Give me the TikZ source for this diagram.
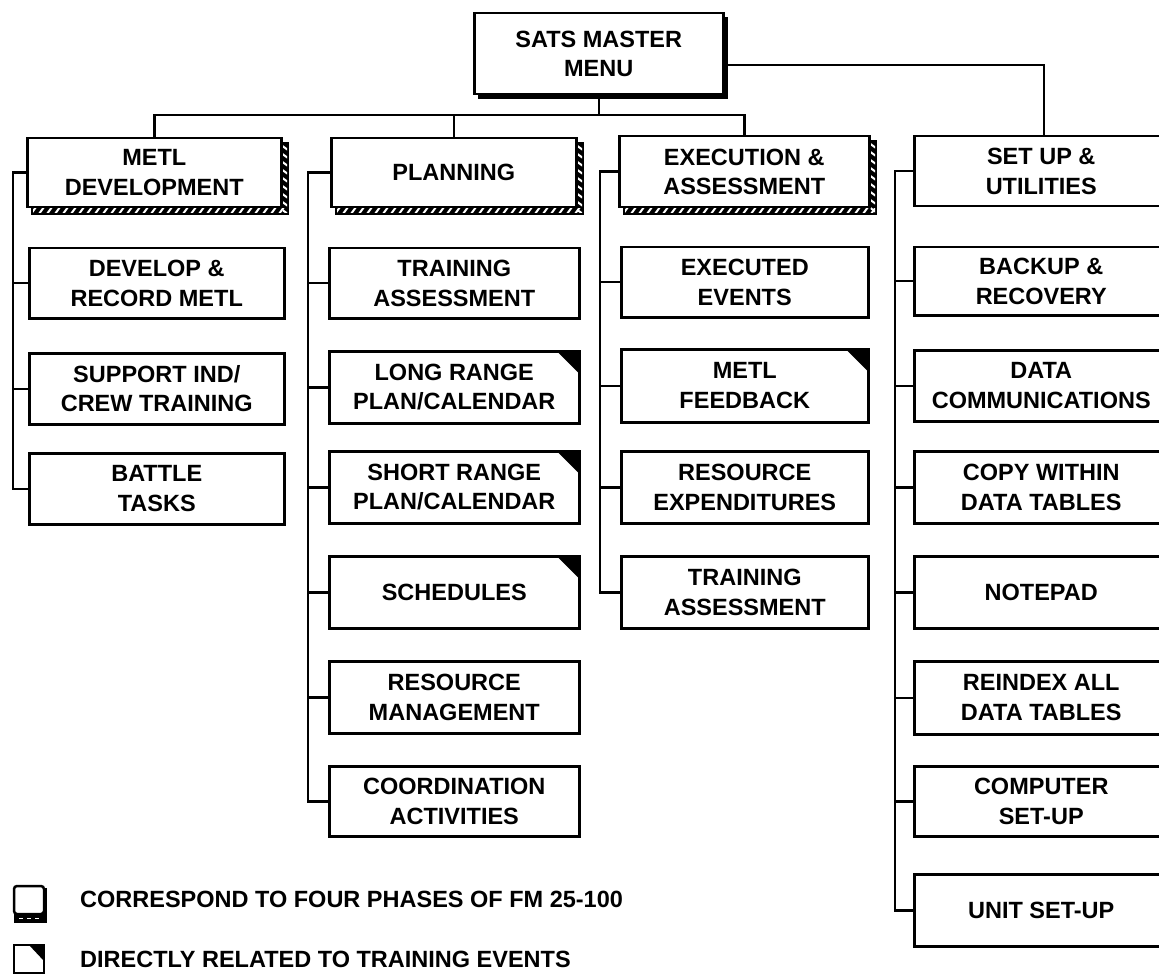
\documentclass[tikz,border=0pt]{standalone}
\usepackage{fontspec}
\setmainfont{Liberation Sans}
\newcommand\boxfont{\fontsize{23.5}{29.5}\selectfont\bfseries}
\newcommand\legfont{\fontsize{23.5}{28}\selectfont\bfseries}
\tikzset{
  box/.style={draw, line width=2.5pt, fill=white, anchor=north west, inner sep=0pt,
    align=center, font=\boxfont, minimum width=#1},
  box/.default=255pt,
  conn/.style={line width=2.5pt, line cap=rect},
}
% hatched shadow: x0 y0 x1 y1 of the box
\newcommand\hatchshadow[4]{%
  \fill[black] (#1+5,#4) rectangle (#3+9,#4+9);
  \fill[black] (#3,#2+5) rectangle (#3+9,#4+9);
  \begin{scope}
    \clip (#1+7,#4+2.5) rectangle (#3+7,#4+7);
    \foreach \t in {0,8,...,300} \draw[white, line width=2pt] (#1+5+\t,#4+8) -- ++(5,-7);
  \end{scope}
  \begin{scope}
    \clip (#3+2.5,#2+8) rectangle (#3+7,#4+7);
    \foreach \t in {0,8,...,90} \draw[white, line width=2pt] (#3+1,#2+8+\t) -- ++(7,5);
  \end{scope}
}
\newcommand\tri[1]{\fill (#1.north east) -- ++(-25,0) -- ++(25,25) -- cycle;}
\begin{document}
\begin{tikzpicture}[x=1pt, y=-1pt]
\useasboundingbox (0,0) rectangle (1159,976);
\clip (0,0) rectangle (1159,976);
\fill[white] (0,0) rectangle (1159,976);

% master
\fill (478,17) rectangle (728,99);
\node[box=249pt, minimum height=81pt] (m) at (473,12) {SATS MASTER\\MENU};

% headers
\hatchshadow{26}{137}{280}{206}
\node[box=254pt, minimum height=69pt] (h1) at (26,137) {METL\\DEVELOPMENT};
\hatchshadow{330}{137}{575}{206}
\node[box=245pt, minimum height=69pt] (h2) at (330,137) {PLANNING};
\hatchshadow{618}{135}{868}{206}
\node[box=250pt, minimum height=71pt] (h3) at (618,135) {EXECUTION \&\\ASSESSMENT};
\node[box=254pt, minimum height=70pt] (h4) at (913,135) {SET UP \&\\UTILITIES};

% top connectors
\coordinate (bus) at (0,115);
\draw[conn] (m.south) -- (m.south |- bus);
\draw[conn] (h1.north |- bus) -- (h3.north |- bus);
\draw[conn] (h1.north |- bus) -- (h1.north);
\draw[conn] (h2.north |- bus) -- (h2.north);
\draw[conn] (h3.north |- bus) -- (h3.north);
\coordinate (k4) at (1044,0);
\draw[conn] (m.east |- 0,65) -- (k4 |- 0,65) -- (k4 |- h4.north);

% column 1
\node[box] (c11) at (28,247) [minimum height=70pt] {DEVELOP \&\\RECORD METL};
\node[box] (c12) at (28,352) [minimum height=71pt] {SUPPORT IND/\\CREW TRAINING};
\node[box] (c13) at (28,452) [minimum height=71pt] {BATTLE\\TASKS};
\coordinate (s1) at (13,0);
\draw[conn] (h1.west) -- (h1.west -| s1) -- (c13.west -| s1) -- (c13.west);
\draw[conn] (c11.west -| s1) -- (c11.west);
\draw[conn] (c12.west -| s1) -- (c12.west);

% column 2
\node[box=250pt] (c21) at (328,247) [minimum height=70pt] {TRAINING\\ASSESSMENT};
\node[box=250pt] (c22) at (328,350) [minimum height=72pt] {LONG RANGE\\PLAN/CALENDAR};
\node[box=250pt] (c23) at (328,450) [minimum height=72pt] {SHORT RANGE\\PLAN/CALENDAR};
\node[box=250pt] (c24) at (328,555) [minimum height=72pt] {SCHEDULES};
\node[box=250pt] (c25) at (328,660) [minimum height=72pt] {RESOURCE\\MANAGEMENT};
\node[box=250pt] (c26) at (328,765) [minimum height=70pt] {COORDINATION\\ACTIVITIES};
\tri{c22}\tri{c23}\tri{c24}
\coordinate (s2) at (308,0);
\draw[conn] (h2.west) -- (h2.west -| s2) -- (c26.west -| s2) -- (c26.west);
\foreach \n in {c21,c22,c23,c24,c25} \draw[conn] (\n.west -| s2) -- (\n.west);

% column 3
\node[box=247pt] (c31) at (620,246) [minimum height=70pt] {EXECUTED\\EVENTS};
\node[box=247pt] (c32) at (620,348) [minimum height=73pt] {METL\\FEEDBACK};
\node[box=247pt] (c33) at (620,450) [minimum height=72pt] {RESOURCE\\EXPENDITURES};
\node[box=247pt] (c34) at (620,555) [minimum height=72pt] {TRAINING\\ASSESSMENT};
\tri{c32}
\coordinate (s3) at (600,0);
\draw[conn] (h3.west) -- (h3.west -| s3) -- (c34.west -| s3) -- (c34.west);
\foreach \n in {c31,c32,c33} \draw[conn] (\n.west -| s3) -- (\n.west);

% column 4
\node[box=254pt] (c41) at (913,246) [minimum height=68pt] {BACKUP \&\\RECOVERY};
\node[box=254pt] (c42) at (913,349) [minimum height=71pt] {DATA\\COMMUNICATIONS};
\node[box=254pt] (c43) at (913,450) [minimum height=72pt] {COPY WITHIN\\DATA TABLES};
\node[box=254pt] (c44) at (913,555) [minimum height=72pt] {NOTEPAD};
\node[box=254pt] (c45) at (913,660) [minimum height=73pt] {REINDEX ALL\\DATA TABLES};
\node[box=254pt] (c46) at (913,765) [minimum height=70pt] {COMPUTER\\SET-UP};
\node[box=254pt] (c47) at (913,873) [minimum height=72pt] {UNIT SET-UP};
\coordinate (s4) at (895,0);
\draw[conn] (h4.west) -- (h4.west -| s4) -- (c47.west -| s4) -- (c47.west);
\foreach \n in {c41,c42,c43,c44,c45,c46} \draw[conn] (\n.west -| s4) -- (\n.west);

% legend
\draw[line width=2.5pt, rounded corners=3pt] (14,886) rectangle (44,914);
\fill (14,914) rectangle (47,923);
\fill (44,888) rectangle (47,923);
\foreach \t in {19,27,35} \draw[white, line width=1.5pt] (\t,918.5) -- ++(4,0);
\node[anchor=west, font=\legfont, inner sep=0pt] (l1) at (80,899) {CORRESPOND TO FOUR PHASES OF FM 25-100};
\draw[line width=2.5pt] (14,945) rectangle (44,973);
\fill (29,945) -- (44,945) -- (44,961) -- cycle;
\node[anchor=west, font=\legfont, inner sep=0pt] (l2) at (80,959) {DIRECTLY RELATED TO TRAINING EVENTS};
\end{tikzpicture}
\end{document}
